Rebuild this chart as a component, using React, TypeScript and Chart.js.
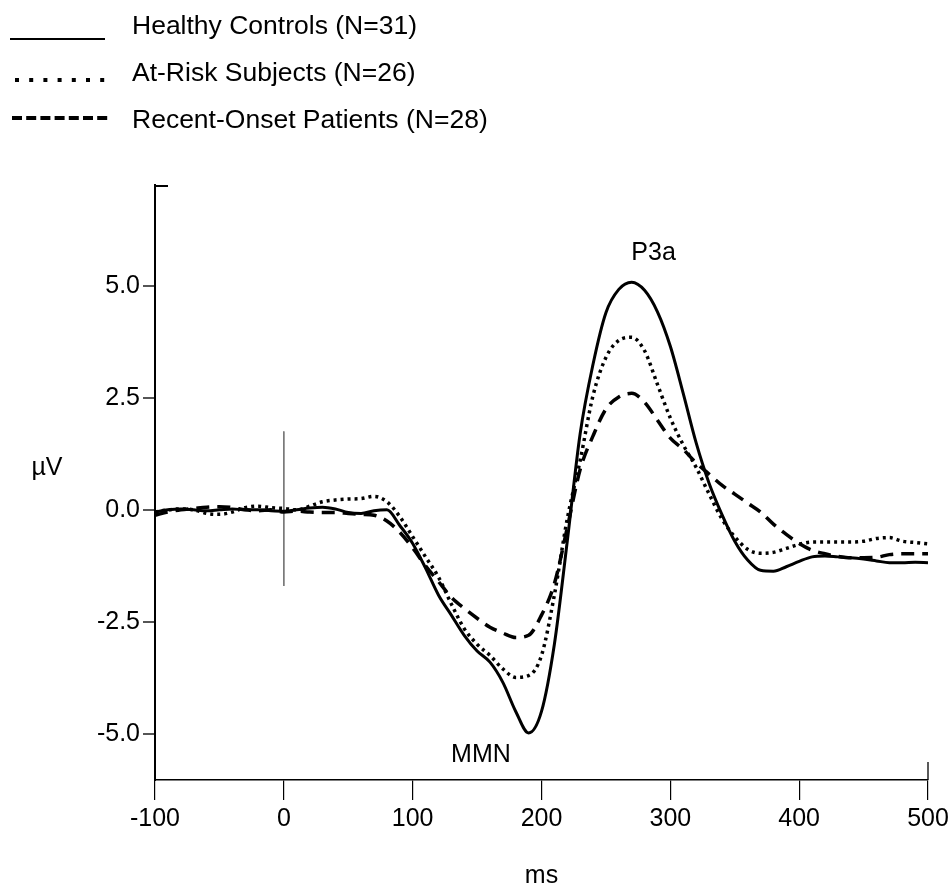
import React, { useEffect, useRef } from "react";
import { Chart, registerables } from "chart.js";

Chart.register(...registerables);

const timeMs = [
  -100, -90, -80, -70, -60, -50, -40, -30, -20, -10, 0, 10, 20, 30, 40, 50, 60, 70, 80, 90,
  100, 110, 120, 130, 140, 150, 160, 170, 180, 190, 200, 210, 220, 230, 240, 250, 260, 270, 280, 290,
  300, 310, 320, 330, 340, 350, 360, 370, 380, 390, 400, 410, 420, 430, 440, 450, 460, 470, 480, 490, 500,
];

const healthyControls = [
  -0.05, 0.0, 0.02, 0.0, -0.02, 0.0, 0.02, 0.0, 0.0, -0.02, -0.03, 0.0, 0.04, 0.06, 0.02, -0.06, -0.08, -0.02, 0.0, -0.35,
  -0.75, -1.3, -1.9, -2.35, -2.8, -3.15, -3.4, -3.85, -4.5, -4.98, -4.5, -3.0, -0.7, 1.7, 3.25, 4.4, 4.92, 5.08, 4.9, 4.42,
  3.65, 2.6, 1.5, 0.6, -0.1, -0.7, -1.12, -1.35, -1.37, -1.27, -1.15, -1.05, -1.03, -1.05, -1.07, -1.1, -1.14, -1.18, -1.18, -1.17, -1.18,
];

const atRiskSubjects = [
  -0.05, 0.0, 0.02, 0.0, -0.08, -0.1, -0.05, 0.05, 0.08, 0.05, 0.03, 0.0, 0.08, 0.18, 0.22, 0.24, 0.25, 0.3, 0.18, -0.15,
  -0.6, -1.05, -1.5, -2.1, -2.65, -3.0, -3.25, -3.55, -3.74, -3.7, -3.25, -1.9, -0.2, 1.1, 2.55, 3.4, 3.78, 3.85, 3.55, 2.8,
  2.05, 1.45, 0.95, 0.36, -0.2, -0.6, -0.88, -0.97, -0.95, -0.86, -0.77, -0.72, -0.72, -0.72, -0.72, -0.7, -0.64, -0.62, -0.7, -0.73, -0.76,
];

const recentOnsetPatients = [
  -0.12, -0.05, 0.0, 0.03, 0.06, 0.07, 0.05, 0.0, -0.02, 0.0, -0.05, -0.03, -0.05, -0.06, -0.06, -0.08, -0.1, -0.12, -0.25, -0.5,
  -0.85, -1.25, -1.6, -1.95, -2.2, -2.42, -2.62, -2.75, -2.85, -2.8, -2.35, -1.65, -0.4, 0.9, 1.65, 2.25, 2.52, 2.6, 2.4, 2.0,
  1.6, 1.35, 1.05, 0.8, 0.55, 0.35, 0.15, -0.05, -0.32, -0.55, -0.75, -0.9, -0.98, -1.04, -1.07, -1.07, -1.06, -1.0, -0.98, -0.98, -0.98,
];

const seriesLabels = [
  "Healthy Controls (N=31)",
  "At-Risk Subjects (N=26)",
  "Recent-Onset Patients (N=28)",
];

const xTickValues = [-100, 0, 100, 200, 300, 400, 500];
const yTickValues = [-5, -2.5, 0, 2.5, 5];

const stimulusMarkerMs = [0, 0];
const stimulusMarkerUv = [1.75, -1.7];

const componentLabels = ["P3a", "MMN"];
const componentMs = [287, 153];
const componentUv = [5.72, -5.48];

const FONT_FAMILY = '"Liberation Sans", Arial, Helvetica, sans-serif';
const BIG_FONT = { family: FONT_FAMILY, size: 25 };

const seriesStyles = [
  { width: 3, dash: [] as number[] },
  { width: 3.5, dash: [3, 4] },
  { width: 3.5, dash: [13, 8] },
];

const legendLineY = [39, 80, 118];
const legendTextY = [27, 74, 121];
const legendDash = [[] as number[], [4, 10.2], [10, 4.2]];

const decorPlugin = {
  id: "decor",
  afterDraw(chart: any) {
    const { ctx, chartArea, scales } = chart;
    const xs = scales.x;
    const ys = scales.y;
    ctx.save();
    // short cap at top of y axis
    ctx.strokeStyle = "#000";
    ctx.lineWidth = 2;
    ctx.setLineDash([]);
    ctx.beginPath();
    ctx.moveTo(chartArea.left - 1, chartArea.top + 1);
    ctx.lineTo(chartArea.left + 13, chartArea.top + 1);
    ctx.stroke();
    // extended tick at right end of x axis
    ctx.lineWidth = 1.3;
    ctx.beginPath();
    const xr = xs.getPixelForValue(500);
    ctx.moveTo(xr, chartArea.bottom - 18);
    ctx.lineTo(xr, chartArea.bottom);
    ctx.stroke();

    // µV label
    ctx.fillStyle = "#000";
    ctx.font = `25px ${FONT_FAMILY}`;
    ctx.textAlign = "center";
    ctx.textBaseline = "middle";
    ctx.fillText("µV", chartArea.left - 108, ys.getPixelForValue(0.93));

    // component labels
    componentLabels.forEach((t, i) => {
      ctx.fillText(t, xs.getPixelForValue(componentMs[i]), ys.getPixelForValue(componentUv[i]));
    });

    // legend
    ctx.font = `26.5px ${FONT_FAMILY}`;
    seriesLabels.forEach((label, i) => {
      ctx.save();
      ctx.strokeStyle = "#000";
      ctx.lineWidth = i === 0 ? 2 : 4;
      ctx.lineCap = "butt";
      ctx.setLineDash(legendDash[i]);
      ctx.beginPath();
      const x0 = i === 1 ? 15 : i === 2 ? 12 : 10;
      const x1 = i === 2 ? 108 : 105;
      ctx.moveTo(x0, legendLineY[i]);
      ctx.lineTo(x1, legendLineY[i]);
      ctx.stroke();
      ctx.restore();
      ctx.textAlign = "left";
      ctx.textBaseline = "middle";
      ctx.fillText(label, 132, legendTextY[i]);
    });
    ctx.restore();
  },
};

export default function App() {
  const canvasRef = useRef<HTMLCanvasElement | null>(null);

  useEffect(() => {
    const canvas = canvasRef.current;
    if (!canvas) return;
    const seriesValues = [healthyControls, atRiskSubjects, recentOnsetPatients];
    const datasets: any[] = seriesValues.map((vals, i) => ({
      label: seriesLabels[i],
      data: timeMs.map((x, j) => ({ x, y: vals[j] })),
      borderColor: "#000",
      backgroundColor: "#000",
      borderWidth: seriesStyles[i].width,
      borderDash: seriesStyles[i].dash,
      borderCapStyle: "butt",
      pointRadius: 0,
      cubicInterpolationMode: "monotone",
      fill: false,
    }));
    datasets.push({
      label: "stimulus",
      data: stimulusMarkerMs.map((x, j) => ({ x, y: stimulusMarkerUv[j] })),
      borderColor: "#777",
      borderWidth: 1,
      pointRadius: 0,
      fill: false,
    });

    const chart = new Chart(canvas, {
      type: "line",
      data: { datasets },
      plugins: [decorPlugin],
      options: {
        responsive: false,
        animation: false,
        events: [],
        layout: { padding: { top: 185, right: 21, left: 0, bottom: 0 } },
        plugins: { legend: { display: false }, tooltip: { enabled: false } },
        scales: {
          x: {
            type: "linear",
            min: -100,
            max: 500,
            afterBuildTicks: (s: any) => {
              s.ticks = xTickValues.map((v) => ({ value: v }));
            },
            ticks: {
              font: BIG_FONT,
              color: "#000",
              padding: 4,
              maxRotation: 0,
              autoSkip: false,
              callback: (v: any) => String(v),
            },
            grid: { drawOnChartArea: false, tickLength: 20, color: "#000", lineWidth: 1.2 },
            border: { color: "#000", width: 1.5 },
            title: { display: true, text: "ms", font: BIG_FONT, color: "#000", padding: 0 },
            afterFit: (s: any) => {
              s.height = 111;
              s.paddingLeft = 0;
              s.paddingRight = 0;
            },
          },
          y: {
            type: "linear",
            min: -6.03,
            max: 7.25,
            afterBuildTicks: (s: any) => {
              s.ticks = yTickValues.map((v) => ({ value: v }));
            },
            ticks: {
              font: BIG_FONT,
              color: "#000",
              padding: 3,
              autoSkip: false,
              callback: (v: any) => Number(v).toFixed(1),
            },
            grid: { drawOnChartArea: false, tickLength: 12, color: "#555", lineWidth: 2 },
            border: { color: "#000", width: 2 },
            afterFit: (s: any) => {
              s.width = 155;
              s.paddingTop = 0;
              s.paddingBottom = 0;
            },
          },
        },
      },
    });
    return () => chart.destroy();
  }, []);

  return (
    <div style={{ position: "absolute", left: 0, top: 0, width: 949, height: 891, background: "#fff" }}>
      <canvas ref={canvasRef} width={949} height={891} style={{ display: "block" }} />
    </div>
  );
}
